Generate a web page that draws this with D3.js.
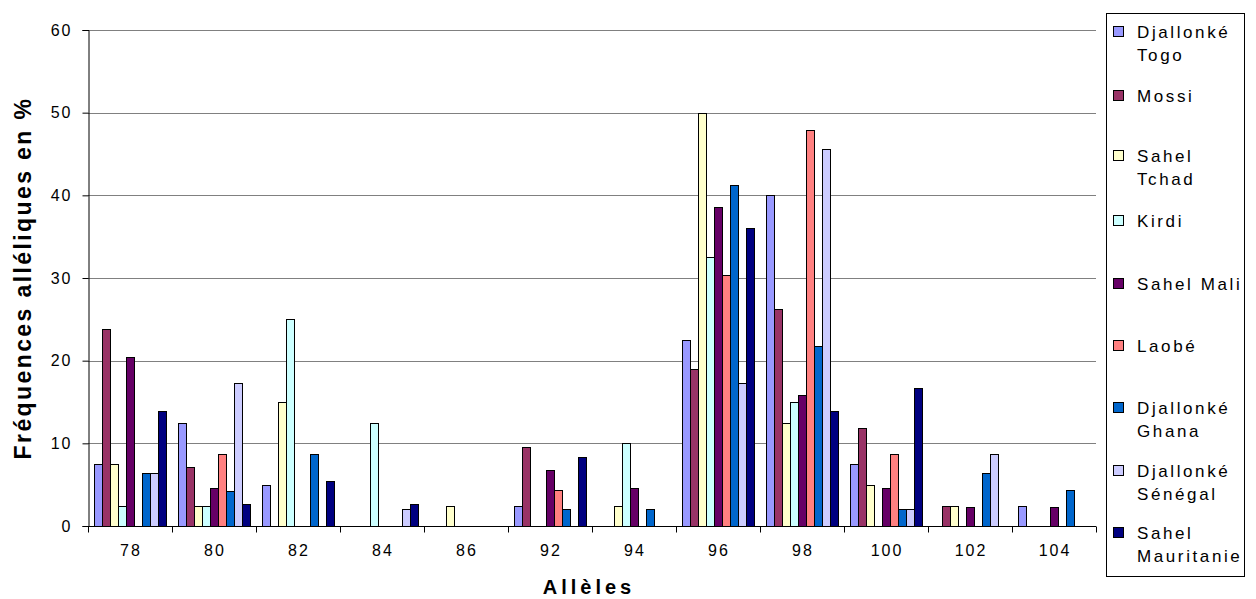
<!DOCTYPE html>
<html>
<head>
<meta charset="utf-8">
<script src="https://cdn.jsdelivr.net/npm/d3@7"></script>
<style>
  html, body { margin: 0; padding: 0; background: #fff; }
  svg text { font-family: "Liberation Sans", Arial, sans-serif; }
</style>
</head>
<body>
<svg id="chart" width="1256" height="599"></svg>
<script>
const categories = ["78", "80", "82", "84", "86", "92", "94", "96", "98", "100", "102", "104"];
const seriesNames = ["Djallonké Togo", "Mossi", "Sahel Tchad", "Kirdi", "Sahel Mali", "Laobé", "Djallonké Ghana", "Djallonké Sénégal", "Sahel Mauritanie"];
const legendLines = [["Djallonké", "Togo"], ["Mossi"], ["Sahel", "Tchad"], ["Kirdi"], ["Sahel Mali"], ["Laobé"], ["Djallonké", "Ghana"], ["Djallonké", "Sénégal"], ["Sahel", "Mauritanie"]];
const colors = ["#9999FF", "#993366", "#FFFFCC", "#CCFFFF", "#660066", "#FF8080", "#0066CC", "#CCCCFF", "#000080"];
const yTicks = [0, 10, 20, 30, 40, 50, 60];

// values per series, in category order
const djallonkeTogo   = [7.5, 12.5, 5.0, 0, 0, 2.4, 0, 22.5, 40.0, 7.5, 0, 2.4];
const mossi           = [23.8, 7.1, 0, 0, 0, 9.5, 0, 19.0, 26.2, 11.9, 2.4, 0];
const sahelTchad      = [7.5, 2.4, 15.0, 0, 2.4, 0, 2.4, 50.0, 12.4, 5.0, 2.4, 0];
const kirdi           = [2.4, 2.4, 25.0, 12.4, 0, 0, 10.0, 32.5, 15.0, 0, 0, 0];
const sahelMali       = [20.4, 4.6, 0, 0, 0, 6.8, 4.6, 38.6, 15.9, 4.6, 2.3, 2.3];
const laobe           = [0, 8.7, 0, 0, 0, 4.3, 0, 30.4, 47.9, 8.7, 0, 0];
const djallonkeGhana  = [6.4, 4.2, 8.7, 0, 0, 2.1, 2.1, 41.2, 21.8, 2.1, 6.4, 4.3];
const djallonkeSenegal= [6.4, 17.3, 0, 2.1, 0, 0, 0, 17.3, 45.6, 2.1, 8.7, 0];
const sahelMauritanie = [13.9, 2.7, 5.5, 2.7, 0, 8.3, 0, 36.0, 13.9, 16.7, 0, 0];
const seriesValues = [djallonkeTogo, mossi, sahelTchad, kirdi, sahelMali, laobe, djallonkeGhana, djallonkeSenegal, sahelMauritanie];

const svg = d3.select("#chart");
const plot = { left: 88, right: 1096, top: 30, bottom: 526 };

const x = d3.scaleBand().domain(categories).range([plot.left, plot.right]).paddingInner(0).paddingOuter(0);
const bw = x.bandwidth();
const xs = d3.scaleBand().domain(seriesNames).range([bw * 0.0714, bw * 0.9286]).paddingInner(0);
const y = d3.scaleLinear().domain([0, 60]).range([plot.bottom, plot.top]);

// gridlines
svg.append("g").selectAll("line").data(yTicks.filter(d => d > 0)).join("line")
  .attr("x1", plot.left).attr("x2", plot.right)
  .attr("y1", d => Math.round(y(d)) + 0.5).attr("y2", d => Math.round(y(d)) + 0.5)
  .attr("stroke", "#808080").attr("stroke-width", 1);

// bars
const data = [];
seriesValues.forEach((vals, si) => vals.forEach((v, ci) => {
  if (v > 0) data.push({ s: seriesNames[si], si, c: categories[ci], v });
}));
svg.append("g").selectAll("rect").data(data).join("rect")
  .attr("x", d => Math.round(x(d.c) + xs(d.s)) + 0.5)
  .attr("y", d => Math.round(y(d.v)) + 0.5)
  .attr("width", Math.round(xs.bandwidth()))
  .attr("height", d => Math.round(y(0)) - Math.round(y(d.v)))
  .attr("fill", d => colors[d.si])
  .attr("stroke", "#000").attr("stroke-width", 1);

// y axis
const yAxis = d3.axisLeft(y).tickValues(yTicks).tickSize(6).tickPadding(10);
const gy = svg.append("g").attr("transform", `translate(${plot.left + 0.5},0)`).call(yAxis);
gy.select(".domain").attr("stroke", "#000");
gy.selectAll(".tick line").attr("stroke", "#000");
gy.selectAll(".tick text").attr("font-size", 16).attr("letter-spacing", 2).attr("fill", "#000")
  .style("font-family", "'Liberation Sans', Arial, sans-serif");

// x axis: ticks at category boundaries
const gx = svg.append("g").attr("transform", `translate(0,${plot.bottom + 0.5})`);
gx.append("line").attr("x1", plot.left).attr("x2", plot.right).attr("stroke", "#000");
const bounds = categories.map(c => x(c)).concat([x(categories[categories.length - 1]) + bw]);
gx.selectAll("line.tk").data(bounds).join("line").attr("class", "tk")
  .attr("x1", d => Math.round(d) + 0.5).attr("x2", d => Math.round(d) + 0.5)
  .attr("y1", 0).attr("y2", 6).attr("stroke", "#000");
gx.selectAll("text").data(categories).join("text")
  .attr("x", d => x(d) + bw / 2 + 1).attr("y", 29)
  .attr("text-anchor", "middle").attr("font-size", 16).attr("letter-spacing", 2)
  .text(d => d);

// axis titles
svg.append("text").attr("x", 589).attr("y", 594).attr("text-anchor", "middle")
  .attr("font-size", 20).attr("font-weight", "bold").attr("letter-spacing", 4)
  .text("Allèles");
svg.append("text").attr("transform", `translate(31,${(plot.top + plot.bottom) / 2}) rotate(-90)`)
  .attr("text-anchor", "middle").attr("font-size", 23).attr("font-weight", "bold").attr("letter-spacing", 2.4)
  .text("Fréquences alléliques en %");

// legend
const lg = svg.append("g");
lg.append("rect").attr("x", 1106.5).attr("y", 13.5).attr("width", 138).attr("height", 563)
  .attr("fill", "#fff").attr("stroke", "#000");
const legendY = [32, 96, 156, 221, 284, 346, 408, 471, 533];
legendLines.forEach((lines, i) => {
  const yy = legendY[i];
  lg.append("rect").attr("x", 1113.5).attr("y", yy - 5.5).attr("width", 10).attr("height", 10)
    .attr("fill", colors[i]).attr("stroke", "#000");
  const t = lg.append("text").attr("x", 1137).attr("y", yy + 6).attr("font-size", 17).attr("letter-spacing", 2.6);
  lines.forEach((ln, j) => t.append("tspan").attr("x", 1137).attr("dy", j === 0 ? 0 : 23).text(ln));
});
</script>
</body>
</html>
